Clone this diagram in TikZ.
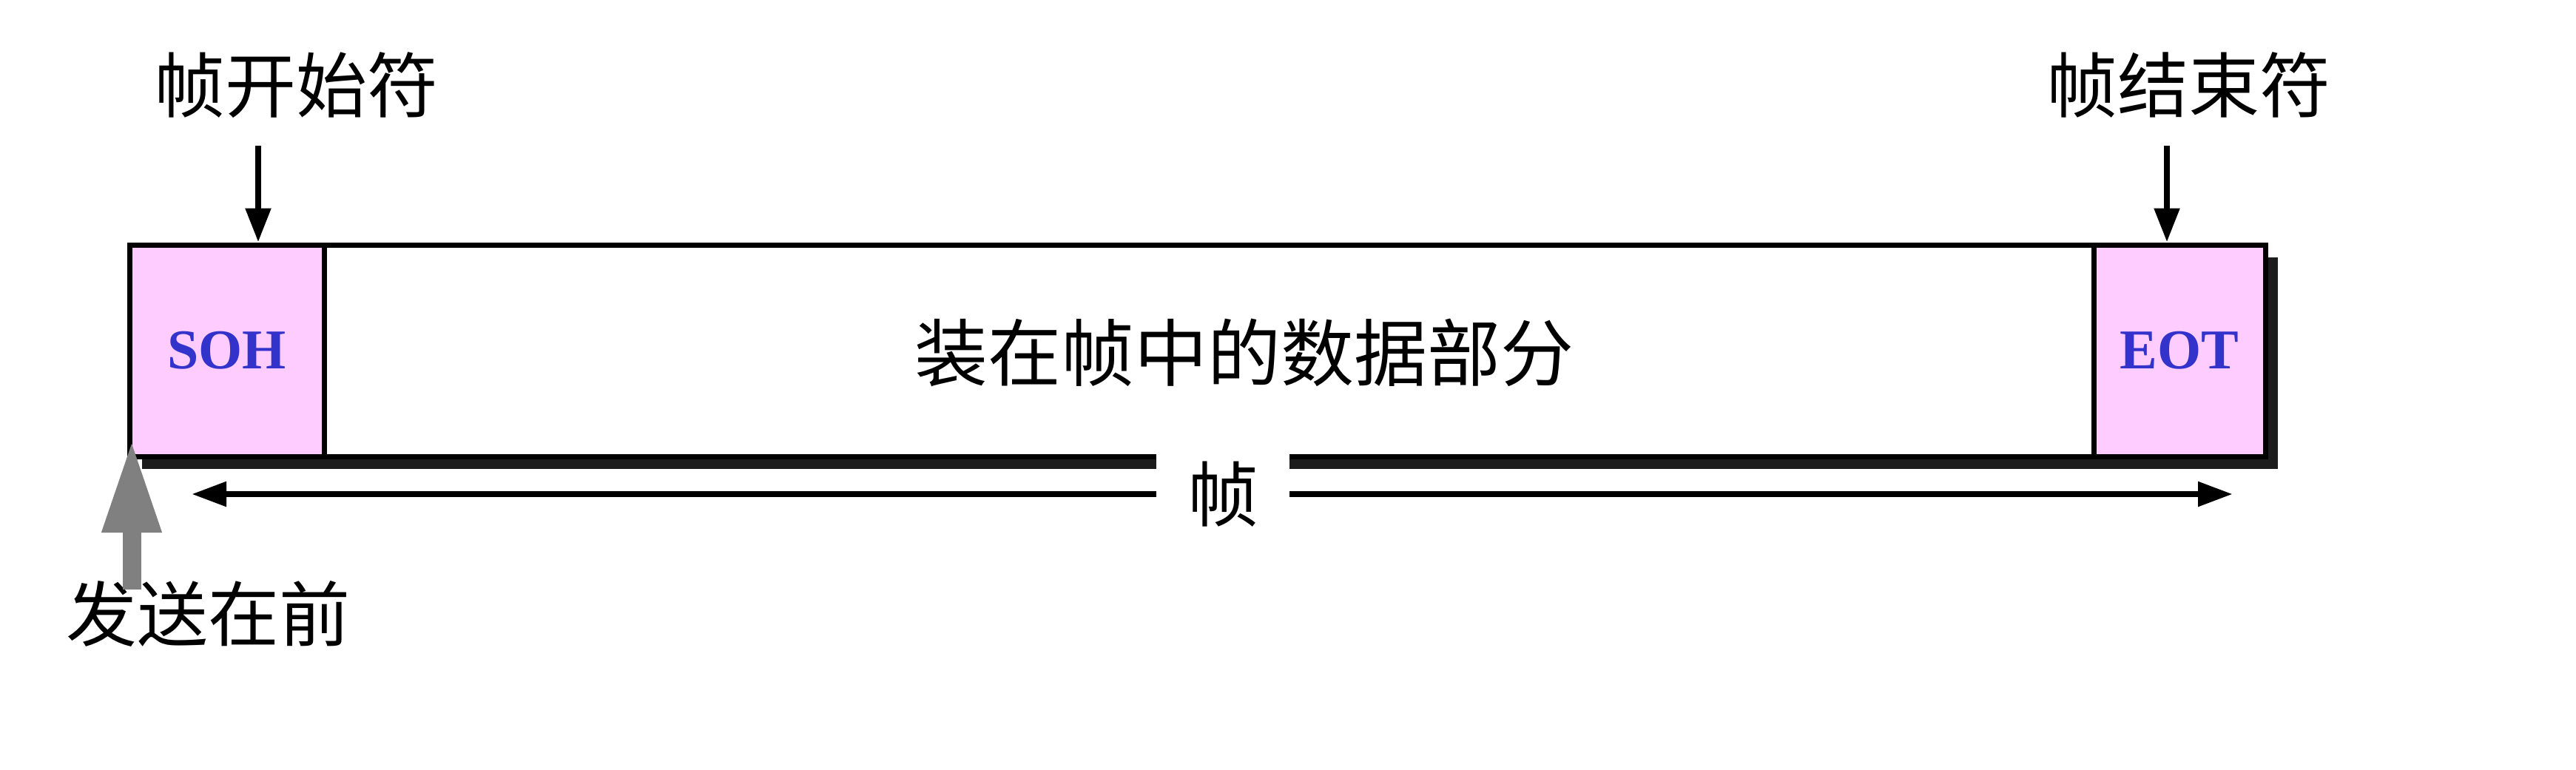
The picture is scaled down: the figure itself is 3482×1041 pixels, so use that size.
\documentclass[tikz,border=0pt]{standalone}
\usepackage{fontspec}
\newfontfamily\cjk{Noto Sans CJK SC}
\newfontfamily\tnr{Liberation Serif}
\usetikzlibrary{arrows.meta}
\definecolor{pinkfill}{RGB}{255,204,255}
\definecolor{sohblue}{RGB}{51,51,204}
\definecolor{shadowc}{RGB}{28,28,28}
\definecolor{sendgray}{RGB}{128,128,128}
\begin{document}
\begin{tikzpicture}[x=1pt,y=-1pt,
  field/.style={draw=black, line width=7pt, inner sep=0pt, minimum height=286pt},
  ctrl/.style={field, fill=pinkfill, text=sohblue, font=\tnr\bfseries\fontsize{76pt}{80pt}\selectfont},
  cjklabel/.style={inner sep=0pt, font=\cjk\fontsize{96pt}{110pt}\selectfont},
  downarrow/.style={line width=8.5pt, -{Triangle[length=46pt,width=33pt]}},
  spanarrow/.style={line width=8.5pt, -{Triangle[length=47pt,width=32pt]}},
  sendarrow/.style={draw=sendgray, line width=25pt, -{Triangle[length=126pt,width=74pt,fill=sendgray]}}
]
\useasboundingbox (0,0) rectangle (3482,1041);
% drop shadow of the frame
\fill[shadowc] (192,348) rectangle (3079,634);
% frame fields
\node[ctrl, minimum width=263pt] (soh) at (306.5,474) {SOH};
\node[field, fill=white, minimum width=2392pt] (data) at (1634,474) {};
\node[ctrl, minimum width=232pt] (eot) at (2946,474) {EOT};
\node[cjklabel, font=\cjk\fontsize{99pt}{110pt}\selectfont] (datatext) at (1682,477) {装在帧中的数据部分};
% top labels and arrows
\node[cjklabel] (start) at (400,115) {帧开始符};
\node[cjklabel] (end) at (2958,115) {帧结束符};
\coordinate (s1) at (349,197);
\coordinate (e1) at (2929,197);
\draw[downarrow] (s1) -- (s1 |- soh.north);
\draw[downarrow] (e1) -- (e1 |- eot.north);
% frame span arrow
\coordinate (lt) at (259,668);
\coordinate (rt) at (3018,668);
\node[cjklabel, fill=white, minimum width=180pt, minimum height=116pt] (frame) at (1653,668) {帧};
\draw[spanarrow] (frame) -- (lt);
\draw[spanarrow] (frame) -- (rt);
% sent-first arrow
\node[cjklabel] (send) at (281,830) {发送在前};
\coordinate (gtip) at (178,594);
\coordinate (gbase) at (178,797);
\draw[sendarrow] (gbase) -- (gtip);
\end{tikzpicture}
\end{document}
